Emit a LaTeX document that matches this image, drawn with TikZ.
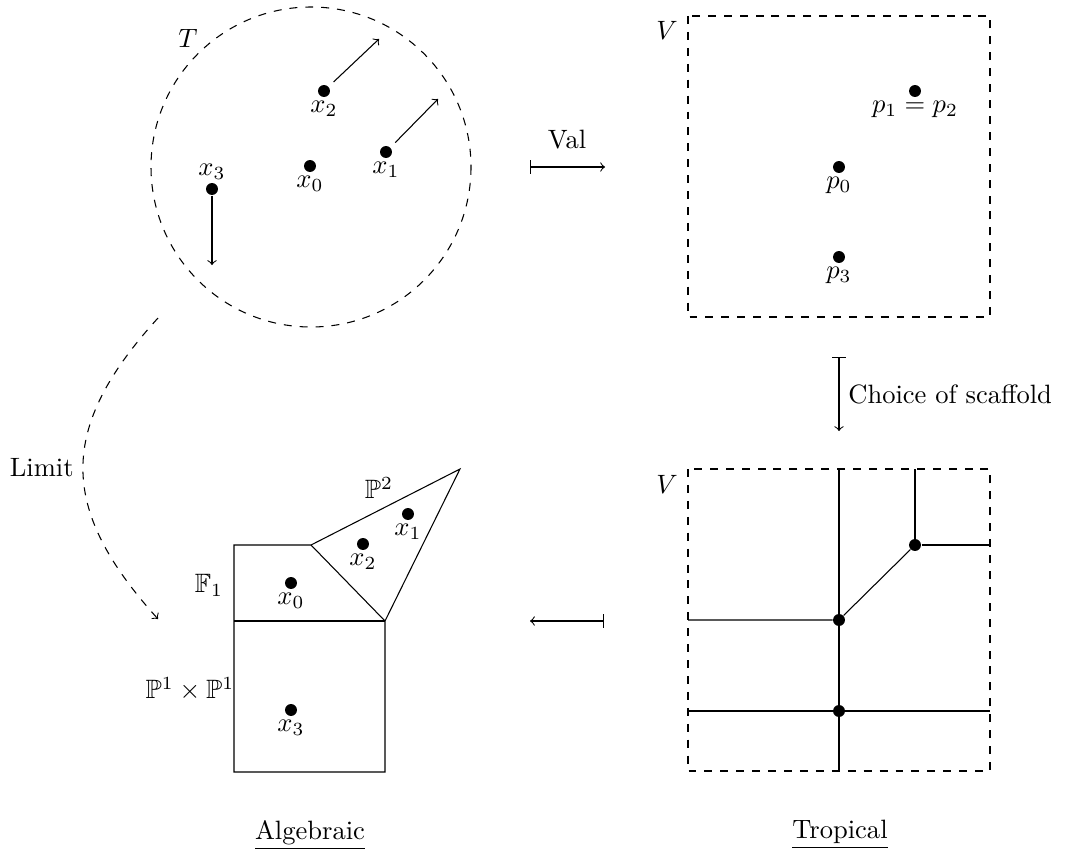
\documentclass[tikz,border=0pt]{standalone}
\usepackage{amsmath,amssymb}
\begin{document}
\begin{tikzpicture}[x=0.013245cm, y=-0.013245cm, >=to,
  dot/.style={circle, fill, inner sep=0pt, minimum size=4.5pt},
  lbl/.style={inner sep=1pt},
  mapsto/.style={|->}]
\useasboundingbox (0,0) rectangle (1072,854);

% ---------- top left: torus T ----------
\draw[dashed] (311,167) circle [radius=160];
\node (T) at (188,38) {$T$};
\node[dot, label={[lbl]below:$x_2$}] (x2) at (324,91) {};
\node[dot, label={[lbl]below:$x_1$}] (x1) at (386,152) {};
\node[dot, label={[lbl]below:$x_0$}] (x0) at (310,166) {};
\node[dot, label={[lbl]above:$x_3$}] (x3) at (212,189) {};
\coordinate (e2) at (379,39);
\coordinate (e1) at (438,99);
\coordinate (e3) at (212,265);
\draw[->, shorten <=2.5pt] (x2) -- (e2);
\draw[->, shorten <=2.5pt] (x1) -- (e1);
\draw[->] (x3) -- (e3);

% ---------- Val arrow ----------
\coordinate (va) at (530,167);
\coordinate (vb) at (605,167);
\draw[mapsto] (va) -- (vb);
\node (val) at (567,140) {Val};

% ---------- top right: V with points ----------
\draw[dashed] (688,16) rectangle (990,317);
\node (V1) at (667,30) {$V$};
\node[dot, label={[lbl]below:$p_1=p_2$}] (p12) at (915,91) {};
\node[dot, label={[lbl]below:$p_0$}] (p0) at (839,167) {};
\node[dot, label={[lbl]below:$p_3$}] (p3) at (839,257) {};

% ---------- choice of scaffold ----------
\coordinate (cs1) at (839,357);
\coordinate (cs2) at (839,431);
\draw[mapsto] (cs1) -- node[right] (cs) {Choice of scaffold} (cs2);

% ---------- bottom right: tropical ----------
\draw[dashed] (688,469) rectangle (990,771);
\node (V2) at (667,484) {$V$};
\node[dot] (q1) at (915,545) {};
\node[dot] (q2) at (839,620) {};
\node[dot] (q3) at (839,711) {};
\coordinate (t1) at (839,469);
\coordinate (t2) at (839,771);
\coordinate (t3) at (915,469);
\coordinate (t4) at (990,545);
\coordinate (t5) at (688,620);
\coordinate (t6) at (688,711);
\coordinate (t7) at (990,711);
\draw (t1) -- (t2);
\draw (t3) -- (q1) -- (t4);
\draw (q1) -- (q2) -- (t5);
\draw (t6) -- (t7);

% ---------- back arrow ----------
\coordinate (la1) at (604,621);
\coordinate (la2) at (530,621);
\draw[mapsto] (la1) -- (la2);

% ---------- bottom left: algebraic ----------
\draw (234,772) -- (234,545) -- (311,545) -- (460,469) -- (385,621) -- (385,772) -- cycle;
\draw (234,621) -- (385,621);
\draw (311,545) -- (385,621);
\node (P2) at (379,488) {$\mathbb{P}^2$};
\node (F1) at (209,585) {$\mathbb{F}_1$};
\node (P1P1) at (190,689) {$\mathbb{P}^1\times\mathbb{P}^1$};
\node[dot, label={[lbl]below:$x_1$}] (y1) at (408,514) {};
\node[dot, label={[lbl]below:$x_2$}] (y2) at (363,544) {};
\node[dot, label={[lbl]below:$x_0$}] (y0) at (291,583) {};
\node[dot, label={[lbl]below:$x_3$}] (y3) at (291,710) {};

% ---------- limit ----------
\coordinate (lim1) at (158,318);
\coordinate (lim2) at (158,619);
\draw[dashed, ->] (lim1) .. controls (58,428) and (58,508) .. (lim2);
\node[anchor=east] (limit) at (83,468) {Limit};

% ---------- captions ----------
\node (alg) at (310,835) {\underline{Algebraic}};
\node (trop) at (840,835) {\underline{Tropical}};
\end{tikzpicture}
\end{document}
